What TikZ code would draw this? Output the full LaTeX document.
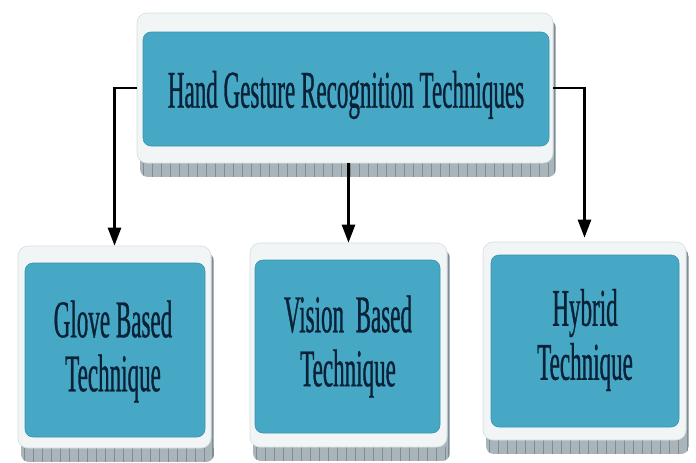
\documentclass[tikz,border=0pt]{standalone}
\usepackage{fontspec}
\newfontfamily\condserif[FakeStretch=0.435,FakeBold=0.6]{Liberation Serif}
\usetikzlibrary{arrows.meta,fit}
\definecolor{boxblue}{HTML}{47A8C5}
\definecolor{boxedge}{HTML}{3B93AE}
\definecolor{framefill}{HTML}{F1F5F6}
\definecolor{frameedge}{HTML}{D5DDE0}
\definecolor{shadowgray}{HTML}{A9B5BA}
\definecolor{hatchgray}{HTML}{7F8C92}
\definecolor{textnavy}{HTML}{0A2238}
\tikzset{
  frame/.style={draw=frameedge, line width=0.6pt, fill=framefill, rounded corners=10pt, inner sep=0pt},
  bluebox/.style={draw=boxedge, line width=0.6pt, fill=boxblue, rounded corners=8pt, inner sep=0pt},
  txt/.style={font=\condserif\fontsize{53}{54}\selectfont, text=textnavy, align=center, inner sep=0pt},
  conn/.style={draw=black, line width=2.6pt, -{Triangle[length=18pt,width=13pt]}},
  hatch/.style={draw=hatchgray, line width=0.8pt}
}
% name, outer x1 y1 x2 y2, inner x1 y1 x2 y2
\newcommand\techbox[9]{%
  \begin{scope}
    \clip[rounded corners=8pt] ({#2+3},{#3+7}) rectangle ({#4+3},{#5+14});
    \fill[shadowgray] ({#2+3},{#3+7}) rectangle ({#4+3},{#5+14});
    \foreach \i in {0,...,48} {\draw[hatch] ({#2+6+\i*9},{#5}) -- ++(0,14);}
    \draw[hatch] ({#4+1},{#3+10}) -- ({#4+1},{#5+12});
  \end{scope}
  \node[frame, fit={(#2,#3) (#4,#5)}] (#1) {};
  \node[bluebox, fit={(#6,#7) (#8,#9)}] (#1-in) {};
}
\begin{document}
\begin{tikzpicture}[x=1pt,y=-1pt]
\useasboundingbox[fill=white] (0,0) rectangle (696,463);

\techbox{top}{137}{13}{553}{163}{143}{32}{549}{146}
\techbox{glove}{18}{246}{211}{448}{25}{263}{205}{437}
\techbox{vision}{250}{243}{447}{447}{255}{260}{440}{433}
\techbox{hybrid}{483}{242}{686}{440}{491}{255}{679}{427}

\node[txt] (t-top) at (346,95) {Hand Gesture Recognition Techniques};
\node[txt] (t-glove) at (113,351.5) {Glove Based\\Technique};
\node[txt] (t-vision) at (348,346.5) {Vision\ \ Based\\Technique};
\node[txt] (t-hybrid) at (585,340) {Hybrid\\Technique};

\draw[conn] (top.west) -| (glove.north);
\draw[conn] (top.east) -| ([yshift=4pt]hybrid.north);
\draw[conn] (vision.north |- top.south) -- (vision.north);
\end{tikzpicture}
\end{document}
